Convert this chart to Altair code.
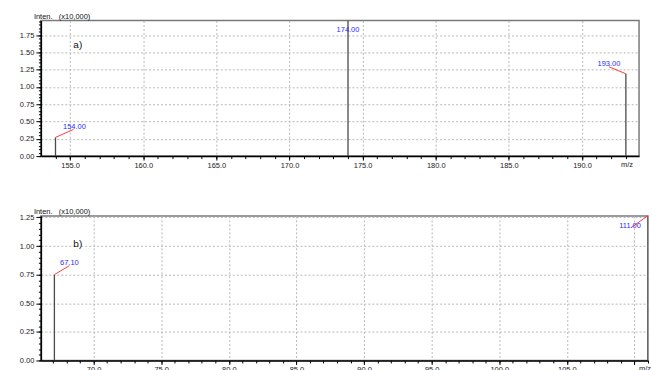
import altair as alt
import pandas as pd

# Panel a) peaks
mz_a = [154.00, 174.00, 193.00]
inten_a = [0.27, 1.96, 1.19]
# Panel b) peaks
mz_b = [67.10, 111.00]
inten_b = [0.75, 1.265]

# Axis tick values
xticks_a = [155, 160, 165, 170, 175, 180, 185, 190]
yticks_a = [0.0, 0.25, 0.5, 0.75, 1.0, 1.25, 1.5, 1.75]
xticks_b = [70, 75, 80, 85, 90, 95, 100, 105, 110]
yticks_b = [0.0, 0.25, 0.5, 0.75, 1.0, 1.25]

FONT = "Liberation Sans"
PEAK = "#4a4a4a"
LEADER = "#ff3b3b"
LABEL = "#2a2aff"

# leader-line end and label offsets (pixels) for each annotated peak
PLACE_A = {154.00: (18, -8, 19, -10), 174.00: (0, 0, 0, 10), 193.00: (-17, -7, -17, -10)}
PLACE_B = {67.10: (15, -9, 15, -12), 111.00: (-17, 12, -18, 10)}

one = alt.Data(values=[{}])


def panel(mz, inten, xdom, ydom, xticks, yticks, width, height, tag, place,
          mz_pos, last_label=None, anchor=False):
    df = pd.DataFrame({"mz": mz, "inten": inten,
                       "lbl": [f"{v:.2f}" for v in mz]})
    xs = alt.Scale(domain=xdom, nice=False, zero=False)
    ys = alt.Scale(domain=ydom, nice=False, zero=False)
    if last_label is None:
        lexpr = "format(datum.value, '.1f')"
    else:
        lexpr = f"datum.value >= {last_label} ? '' : format(datum.value, '.1f')"

    x_major = alt.X("mz:Q", scale=xs, title=None, axis=alt.Axis(
        orient="bottom", values=xticks, labelExpr=lexpr, grid=True,
        gridColor="#b8b8b8", gridDash=[2, 2], gridWidth=1,
        tickSize=4, tickColor="#000", tickWidth=1,
        domainColor="#000", domainWidth=1.5,
        labelFont=FONT, labelFontSize=7.5, labelColor="#222",
        labelPadding=1))
    y_major = alt.Y("inten:Q", scale=ys, title=None, axis=alt.Axis(
        orient="left", values=yticks, format=".2f", grid=True,
        gridColor="#b8b8b8", gridDash=[2, 2], gridWidth=1,
        tickSize=5, tickColor="#000", tickWidth=1,
        domainColor="#000", domainWidth=1.5,
        labelFont=FONT, labelFontSize=7.5, labelColor="#222",
        labelPadding=2))

    peaks = alt.Chart(df).mark_rule(color=PEAK, strokeWidth=1.3, clip=True).encode(
        x=x_major, y=y_major, y2=alt.datum(0))

    lo, hi = xdom
    xminor = [v for v in range(int(lo) + 1, int(hi) + 1)]
    ylo, yhi = ydom
    n = int(yhi / 0.05 + 1e-9)
    yminor = [round(i * 0.05, 2) for i in range(n + 1)]
    minor = alt.Chart(df).mark_point(opacity=0).encode(
        x=alt.X("mz:Q", scale=xs, title=None, axis=alt.Axis(
            orient="bottom", values=xminor, labels=False, grid=False,
            domain=False, tickSize=2.5, tickColor="#000")),
        y=alt.Y("inten:Q", scale=ys, title=None, axis=alt.Axis(
            orient="left", values=yminor, labels=False, grid=False,
            domain=False, tickSize=2.5, tickColor="#000")))

    xq = alt.X("mz:Q", scale=xs, axis=None)
    yq = alt.Y("inten:Q", scale=ys, axis=None)
    layers = [peaks, minor]
    for m, v in zip(mz, inten):
        ldx, ldy, tdx, tdy = place[m]
        row = pd.DataFrame({"mz": [m], "inten": [v], "lbl": [f"{m:.2f}"]})
        if ldx or ldy:
            layers.append(alt.Chart(row).mark_rule(
                color=LEADER, strokeWidth=1, x2Offset=ldx, y2Offset=ldy).encode(
                x=xq, y=yq, x2="mz:Q", y2="inten:Q"))
        layers.append(alt.Chart(row).mark_text(
            font=FONT, fontSize=7.5, color=LABEL, dx=tdx, dy=tdy,
            baseline="middle", align="center").encode(x=xq, y=yq, text="lbl:N"))

    layers.append(alt.Chart(one).mark_text(
        font=FONT, fontSize=10, color="#111", align="center", baseline="middle").encode(
        x=alt.value(37), y=alt.value(25 if tag == "a)" else 28), text=alt.datum(tag)))
    layers.append(alt.Chart(one).mark_text(
        font=FONT, fontSize=7.5, color="#111", align="left", baseline="alphabetic").encode(
        x=alt.value(-7), y=alt.value(-1.5),
        text=alt.datum("Inten.\u00a0\u00a0\u00a0(x10,000)")))
    mx, my, malign = mz_pos
    layers.append(alt.Chart(one).mark_text(
        font=FONT, fontSize=7.5, color="#222", align=malign, baseline="top").encode(
        x=alt.value(mx), y=alt.value(my), text=alt.datum("m/z")))
    if anchor:
        # zero-size invisible rule that fixes the top-left margin
        layers.append(alt.Chart(one).mark_rule(stroke="#fff", strokeOpacity=0).encode(
            x=alt.value(-40), x2=alt.value(-40), y=alt.value(-19), y2=alt.value(-19)))
    return alt.layer(*layers).resolve_axis(x="independent", y="independent").properties(
        width=width, height=height)


pa = panel(mz_a, inten_a, [153.0, 193.9], [0, 1.96], xticks_a, yticks_a,
           600, 136, "a)", PLACE_A, (588, 141, "center"), anchor=True)

pb = panel(mz_b, inten_b, [66.1, 111.0], [0, 1.263], xticks_b, yticks_b,
           609, 145, "b)", PLACE_B, (612, 150, "right"), last_label=110)

chart = alt.vconcat(pa, pb, spacing=60, bounds="flush").properties(
    padding=0, background="white"
).configure_view(stroke="#7a7a7a", strokeWidth=1.5)

chart.save("out.html", embed_options={"renderer": "svg", "actions": False})
